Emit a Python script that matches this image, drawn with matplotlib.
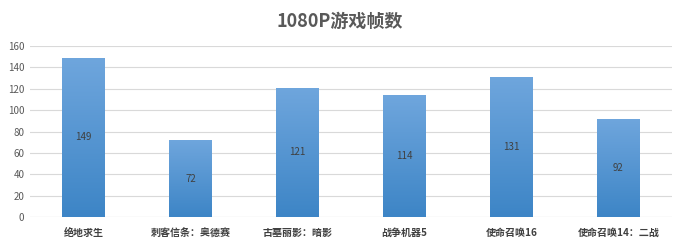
import matplotlib.pyplot as plt
import numpy as np

plt.rcParams['font.family'] = ['Noto Sans CJK SC', 'DejaVu Sans']

games = ['绝地求生', '刺客信条：奥德赛', '古墓丽影：暗影', '战争机器5', '使命召唤16', '使命召唤14：二战']
fps = [149, 72, 121, 114, 131, 92]
yticks = [0, 20, 40, 60, 80, 100, 120, 140, 160]

fig = plt.figure(figsize=(6.8, 2.47), dpi=100)
ax = fig.add_axes([0.044, 0.121, 0.944, 0.693])

x = np.arange(len(games))
bars = ax.bar(x, fps, width=0.4, color='#5b9bd5', edgecolor='none', zorder=2)

# vertical gradient inside each bar
grad = np.linspace(0, 1, 256).reshape(-1, 1)
cmap = plt.matplotlib.colors.LinearSegmentedColormap.from_list('b', ['#3d85c6', '#6fa6dd'])
for b, v in zip(bars, fps):
    x0, w, h = b.get_x(), b.get_width(), b.get_height()
    im = ax.imshow(grad, extent=[x0, x0 + w, 0, h], origin='lower', cmap=cmap,
                   aspect='auto', zorder=3)
    im.set_clip_path(b)
    ax.text(x0 + w / 2, h / 2, str(v), ha='center', va='center',
            fontsize=7, color='#404040', zorder=4)

ax.set_xlim(-0.5, len(games) - 0.5)
ax.set_ylim(0, 160)
ax.set_yticks(yticks)
ax.set_yticklabels([str(v) for v in yticks], fontsize=7, color='#595959')
ax.set_xticks(x)
ax.set_xticklabels(games, fontsize=7.2, color='#404040', fontweight='bold')
ax.tick_params(length=0, pad=4)
ax.tick_params(axis='x', pad=8)
ax.yaxis.grid(True, color='#d9d9d9', linewidth=0.8, zorder=0)
for s in ax.spines.values():
    s.set_visible(False)
ax.axhline(0, color='#d9d9d9', linewidth=0.8, zorder=1)

fig.text(0.5, 0.915, '1080P游戏帧数', ha='center', va='center', fontsize=13,
         fontweight='bold', color='#595959')

fig.savefig('out.png', dpi=100)
